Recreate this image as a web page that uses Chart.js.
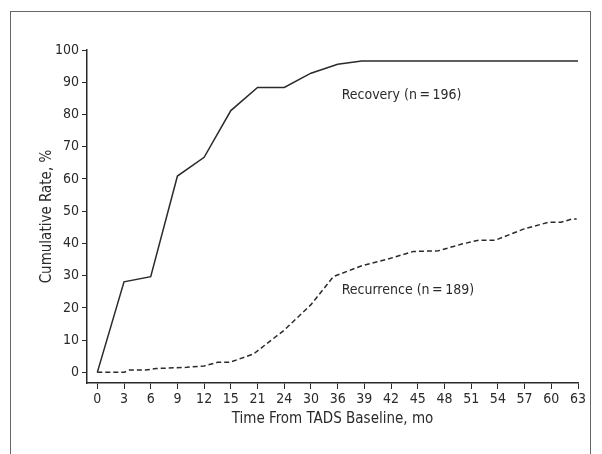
<!DOCTYPE html>
<html>
<head>
<meta charset="utf-8">
<script src="https://cdn.jsdelivr.net/npm/chart.js@4.4.1/dist/chart.umd.min.js"></script>
<style>
  html, body { margin: 0; padding: 0; background: #fff; }
  #wrap { position: relative; width: 602px; height: 454px; overflow: hidden; }
  #frame { position: absolute; left: 10px; top: 11px; width: 581px; height: 460px;
           border: 1.5px solid #666; box-sizing: border-box; }
  canvas { position: absolute; left: 0; top: 0; }
</style>
</head>
<body>
<div id="wrap">
  <div id="frame"></div>
  <canvas id="c" width="602" height="454"></canvas>
</div>
<script>
// x 축 라벨 (간격이 같지 않음: 15 다음 21, 24 다음 30)
const xLabels = ['0', '3', '6', '9', '12', '15', '21', '24', '30', '36', '39', '42', '45', '48', '51', '54', '57', '60', '63'];
const yTicks = [0, 10, 20, 30, 40, 50, 60, 70, 80, 90, 100];

// 회복 곡선 (x 는 라벨 순번 위치)
const recoveryPos = [0, 1, 2, 3, 4, 5, 6, 7, 8, 9, 9.9, 18];
const recoveryPct = [0, 28.1, 29.7, 60.9, 66.7, 81.2, 88.4, 88.4, 92.8, 95.6, 96.6, 96.6];

// 재발 곡선
const recurrencePos = [0, 1, 1.2, 1.8, 2.2, 3.35, 4, 4.5, 4.95, 5.85, 7, 8, 8.84, 9.88, 10.95, 11.83, 12.77, 13.65, 14.28, 14.9, 15.98, 16.92, 17.36, 17.8, 17.95];
const recurrencePct = [0, 0, 0.7, 0.7, 1.2, 1.55, 2.0, 3.1, 3.1, 5.7, 13.1, 21.0, 29.7, 33.0, 35.3, 37.5, 37.7, 39.8, 41.0, 41.0, 44.5, 46.6, 46.6, 47.6, 47.6];

const labelTexts = ['Recovery (n\u2009=\u2009196)', 'Recurrence (n\u2009=\u2009189)'];

const FONT = "'Liberation Sans Narrow', 'DejaVu Sans Condensed', 'Liberation Sans', sans-serif";
const INK = '#2a2a2a';

const toPoints = (xs, ys) => xs.map((x, i) => ({ x: x, y: ys[i] }));

// 곡선 옆 글씨
const curveLabels = {
    id: 'curveLabels',
    afterDatasetsDraw(chart) {
        const { ctx, scales: { x, y } } = chart;
        ctx.save();
        ctx.fillStyle = INK;
        ctx.font = '14px ' + FONT;
        ctx.textBaseline = 'middle';
        ctx.textAlign = 'left';
        ctx.fillText(labelTexts[0], x.getPixelForValue(9.15), y.getPixelForValue(86));
        ctx.fillText(labelTexts[1], x.getPixelForValue(9.15), y.getPixelForValue(25.5));
        ctx.restore();
    }
};

new Chart(document.getElementById('c'), {
    type: 'line',
    data: {
        datasets: [{
            data: toPoints(recoveryPos, recoveryPct),
            borderColor: INK,
            borderWidth: 1.5,
            pointRadius: 0,
            tension: 0
        }, {
            data: toPoints(recurrencePos, recurrencePct),
            borderColor: INK,
            borderWidth: 1.5,
            borderDash: [5, 3],
            pointRadius: 0,
            tension: 0
        }]
    },
    options: {
        responsive: false,
        animation: false,
        layout: { padding: { top: 50, right: 24, left: 0, bottom: 0 } },
        plugins: { legend: { display: false }, tooltip: { enabled: false } },
        scales: {
            x: {
                type: 'linear',
                min: -0.386,
                max: 18,
                afterBuildTicks: s => { s.ticks = xLabels.map((_, i) => ({ value: i })); },
                afterFit: s => { s.height = 71; },
                ticks: {
                    callback: (v) => xLabels[v],
                    color: INK,
                    font: { family: FONT, size: 14 },
                    padding: 2,
                    maxRotation: 0,
                    autoSkip: false
                },
                grid: { drawOnChartArea: false, drawTicks: true, tickLength: 6, color: INK, lineWidth: 1 },
                border: { display: true, color: INK, width: 1.5 },
                title: {
                    display: true,
                    text: 'Time From TADS Baseline, mo',
                    color: INK,
                    font: { family: FONT, size: 15 },
                    padding: { top: 0, bottom: 26 }
                }
            },
            y: {
                min: -3.3,
                max: 100,
                afterBuildTicks: s => { s.ticks = yTicks.map(v => ({ value: v })); },
                afterFit: s => { s.width = 87; },
                ticks: {
                    color: INK,
                    font: { family: FONT, size: 14 },
                    padding: 3
                },
                grid: { drawOnChartArea: false, drawTicks: true, tickLength: 5, color: INK, lineWidth: 1 },
                border: { display: true, color: INK, width: 1.5 },
                title: {
                    display: true,
                    text: 'Cumulative Rate, %',
                    color: INK,
                    font: { family: FONT, size: 15 },
                    padding: { top: 38, bottom: 0 }
                }
            }
        }
    },
    plugins: [curveLabels]
});
</script>
</body>
</html>
